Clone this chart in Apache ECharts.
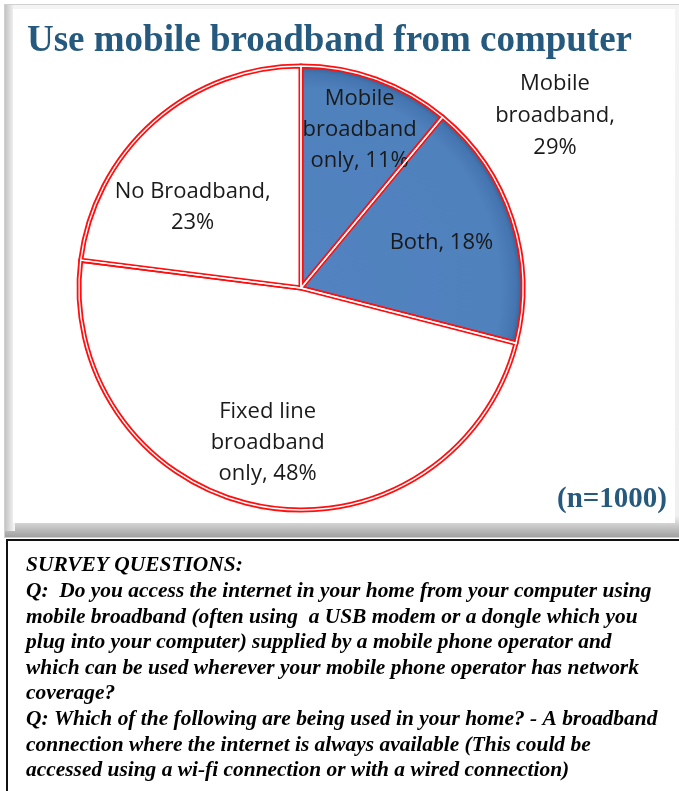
<!DOCTYPE html>
<html>
<head>
<meta charset="utf-8">
<script src="https://cdn.jsdelivr.net/npm/echarts@6/dist/echarts.min.js"></script>
<style>
html,body{margin:0;padding:0;background:#fff;}
#c{width:679px;height:791px;}
</style>
</head>
<body>
<div id="c"></div>
<script>
// ---- data ----
const categories = ['Mobile\nbroadband\nonly', 'Both', 'Fixed line\nbroadband\nonly', 'No Broadband'];
const values = [11, 18, 48, 23];
const groupLabel = 'Mobile\nbroadband,';
const groupValue = 29;
const titleText = 'Use mobile broadband from computer';
const sampleText = '(n=1000)';
const surveyLines = [
  'SURVEY QUESTIONS:',
  'Q:  Do you access the internet in your home from your computer using',
  'mobile broadband (often using  a USB modem or a dongle which you',
  'plug into your computer) supplied by a mobile phone operator and',
  'which can be used wherever your mobile phone operator has network',
  'coverage?',
  'Q: Which of the following are being used in your home? - A broadband',
  'connection where the internet is always available (This could be',
  'accessed using a wi-fi connection or with a wired connection)'
];

// ---- styles (kept separate from data) ----
const blueFill = {
  type: 'radial', x: 301, y: 288, r: 222, global: true,
  colorStops: [{offset: 0, color: '#5283c0'}, {offset: 0.9, color: '#4f81bd'}, {offset: 0.97, color: '#4575b0'}, {offset: 1, color: '#34608f'}]
};
const fills = [blueFill, blueFill, '#ffffff', '#ffffff'];
const separators = [', ', ', ', ', ', ',\n'];
const labelOffsets = [[20, -51], [32, -10], [-12, 43], [-33, 5]];
const labelFont = '"Open Sans", "Noto Sans", sans-serif';

const chart = echarts.init(document.getElementById('c'));

const mainData = categories.map((name, i) => ({
  name, value: values[i],
  itemStyle: {color: fills[i]},
  label: {offset: labelOffsets[i]}
}));
const overlayData = categories.map((name, i) => ({name, value: values[i]}));

const graphics = [
  // upper panel frame with bevel
  {type: 'rect', shape: {x: 4, y: 4, width: 680, height: 534}, style: {fill: '#d0d0d0'}, z: 0},
  {type: 'rect', shape: {x: 5, y: 5, width: 680, height: 532},
    style: {fill: {type: 'linear', x: 0, y: 0, x2: 0, y2: 1, colorStops: [{offset: 0, color: '#f4f4f4'}, {offset: 0.96, color: '#f0f0f0'}, {offset: 1, color: '#a0a0a0'}]}}, z: 0},
  {type: 'rect', shape: {x: 5, y: 5, width: 10, height: 526},
    style: {fill: {type: 'linear', x: 0, y: 0, x2: 1, y2: 0, colorStops: [{offset: 0, color: '#c4c4c4'}, {offset: 1, color: '#f8f8f8'}]}}, z: 0},
  {type: 'rect', shape: {x: 13, y: 9, width: 662, height: 514}, style: {fill: '#ffffff'}, z: 0},
  // lower panel border
  {type: 'rect', shape: {x: 6, y: 539, width: 673, height: 2}, style: {fill: '#111'}, z: 1},
  {type: 'rect', shape: {x: 6, y: 539, width: 2, height: 252}, style: {fill: '#111'}, z: 1},
  // title
  {type: 'text', x: 27, y: 41, style: {text: titleText, font: 'bold 37px "Liberation Serif", "DejaVu Serif", serif', fill: '#25597d', verticalAlign: 'middle'}, z: 5},
  // n
  {type: 'text', x: 667, y: 500, style: {text: sampleText, font: 'bold 29px "Liberation Serif", serif', fill: '#25597d', align: 'right', verticalAlign: 'middle'}, z: 5},
  // group label
  {type: 'text', x: 555, y: 116, style: {text: groupLabel + '\n' + groupValue + '%', font: '22px ' + labelFont, fill: '#1a1a1a', align: 'center', verticalAlign: 'middle', lineHeight: 32}, z: 5},
];
surveyLines.forEach((t, i) => {
  graphics.push({type: 'text', x: 26, y: 566 + i * 25.6, scaleX: 1.02,
    style: {text: t, font: 'italic bold 21px "Liberation Serif", "DejaVu Serif", serif', fill: '#000', verticalAlign: 'middle'}, z: 5});
});

chart.setOption({
  animation: false,
  backgroundColor: '#ffffff',
  graphic: graphics,
  series: [
    {
      type: 'pie', center: [301, 288], radius: 222, startAngle: 90, clockwise: true,
      z: 2,
      itemStyle: {borderColor: '#ff1010', borderWidth: 5},
      label: {
        show: true, position: 'inside',
        formatter: p => p.name + separators[p.dataIndex] + p.value + '%',
        fontFamily: labelFont, fontSize: 22, lineHeight: 31, color: '#1a1a1a', align: 'center'
      },
      labelLine: {show: false},
      emphasis: {disabled: true},
      data: mainData
    },
    {
      type: 'pie', center: [301, 288], radius: 222, startAngle: 90, clockwise: true,
      z: 3, silent: true,
      itemStyle: {color: 'rgba(0,0,0,0)', borderColor: '#ffffff', borderWidth: 1.4},
      label: {show: false}, labelLine: {show: false},
      emphasis: {disabled: true},
      data: overlayData
    }
  ]
});
</script>
</body>
</html>
